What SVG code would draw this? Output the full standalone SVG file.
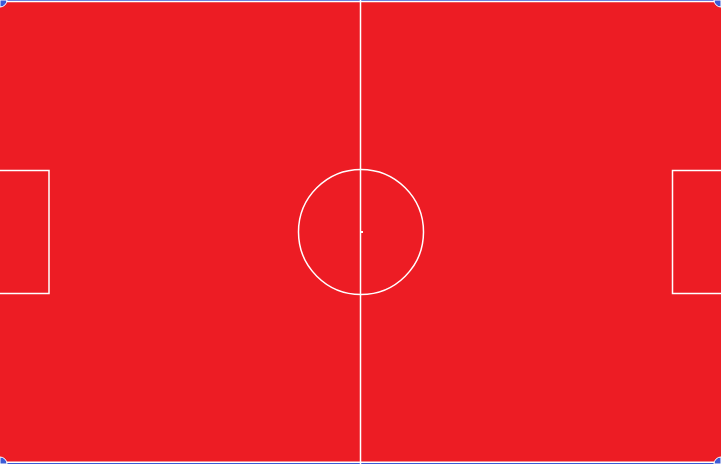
<svg xmlns="http://www.w3.org/2000/svg" width="721" height="464" viewBox="0 0 721 464">
<style>
.ln{fill:none;stroke:#ffffff;stroke-width:1.5}
.cn{fill:#3b5bd6;stroke:#ffffff;stroke-width:1}
</style>
<rect x="0" y="0" width="721" height="464" fill="#ed1c24"/>
<g id="pitch-border">
<rect x="0" y="0" width="721" height="1" fill="#3b5bd6"/>
<rect x="0" y="463" width="721" height="1" fill="#3b5bd6"/>
<line class="ln" x1="0" y1="1.5" x2="721" y2="1.5"/>
<line class="ln" x1="0" y1="462.2" x2="721" y2="462.2"/>
</g>
<g id="corners">
<path class="cn" d="M0,0 L7,0 A7,7 0 0 1 0,7 Z"/>
<path class="cn" d="M721,0 L714,0 A7,7 0 0 0 721,7 Z"/>
<path class="cn" d="M0,464 L7,464 A7,7 0 0 0 0,457 Z"/>
<path class="cn" d="M721,464 L714,464 A7,7 0 0 1 721,457 Z"/>
</g>
<g id="halfway-line">
<line class="ln" x1="360.5" y1="0" x2="360.5" y2="464" stroke-width="2"/>
</g>
<g id="centre-circle">
<circle class="ln" cx="361" cy="232" r="62.5"/>
<rect x="360" y="231" width="3" height="2" fill="#ffffff"/>
</g>
<g id="left-box">
<path class="ln" d="M0,170.5 H49 V293.5 H0"/>
</g>
<g id="right-box">
<path class="ln" d="M721,170.5 H672.5 V293.5 H721"/>
</g>
</svg>
